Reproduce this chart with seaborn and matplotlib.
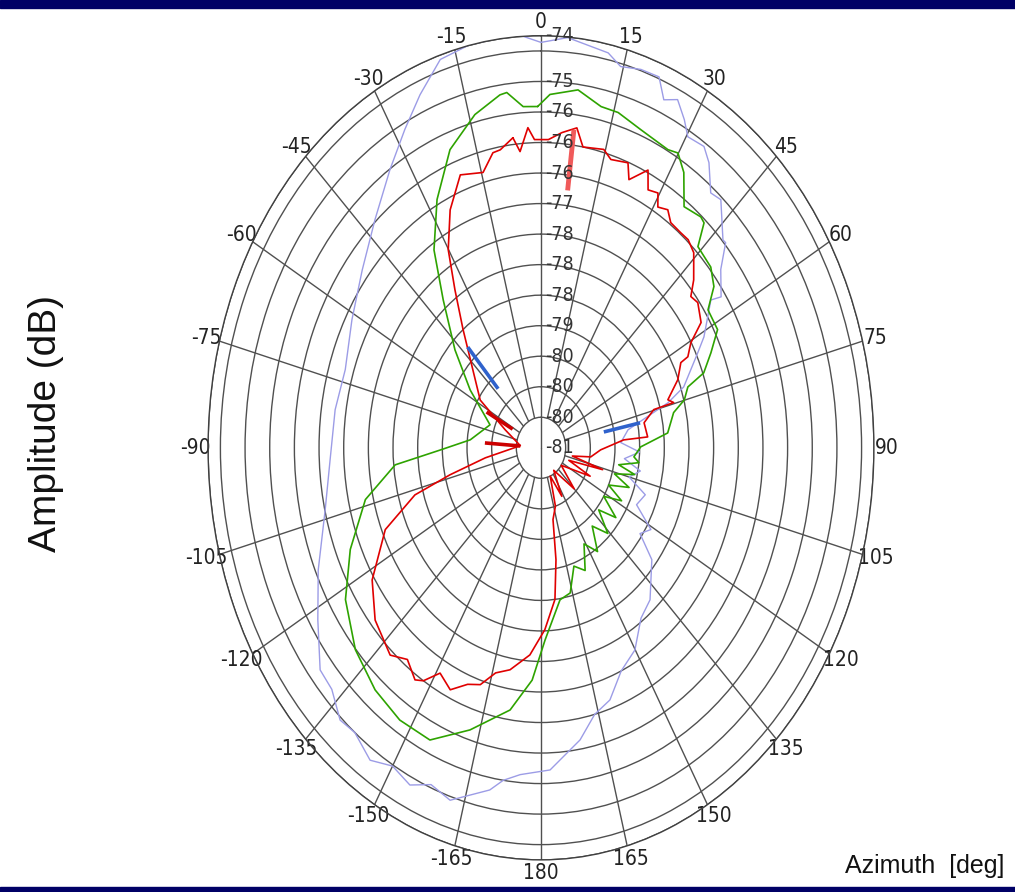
import numpy as np
import pandas as pd
import matplotlib
matplotlib.use("Agg")
import matplotlib.pyplot as plt
from matplotlib import font_manager
import seaborn as sns

# azimuth in degrees (clockwise from 0 at top), amplitude in dB
lav_az = [0, 4.6, 11.9, 14.5, 18.1, 21.5, 23.6, 25.9, 28.4, 30.3, 33.8, 36.1, 39.5, 41.9,
          47.3, 48.1, 51.3, 55.9, 54.9, 61.2, 63.9, 71, 74, 80.5, 87, 92, 96, 100.7, 105,
          110, 115.7, 121, 125, 129.2, 138.4, 144, 150.1, 156, 161.3, 166, 170.6, 178,
          -175.5, -172, -169.5, -162.3, -158, -154.3, -150, -145.9, -141, -137.6, -133,
          -129.1, -121.9, -113.9, -103, -92.6, -81.5, -72.1, -61.3, -51.2, -42, -33.9,
          -27.9, -23, -17.8, -12.3, -7, -3.6]
lav_db = [-74.36, -74.26, -74.39, -74.55, -74.48, -74.47, -74.78, -74.66, -74.89, -75.10,
          -75.06, -75.22, -75.59, -75.54, -75.98, -75.97, -76.33, -76.59, -76.79, -77.23,
          -77.46, -77.94, -78.32, -79.21, -79.38, -79.00, -79.30, -78.95, -79.15, -78.75,
          -78.85, -78.40, -78.55, -78.10, -77.67, -77.55, -77.18, -77.00, -76.64, -76.50,
          -76.15, -75.72, -75.63, -75.50, -75.30, -74.94, -75.05, -74.87, -74.98, -74.82,
          -75.00, -74.96, -75.20, -75.23, -75.67, -76.06, -76.51, -76.72, -76.78, -76.83,
          -76.63, -76.35, -75.97, -75.51, -75.10, -74.72, -74.32, -74.24, -74.23, -74.23]

grn_az = [-0.7, 1.8, 7.3, 12.3, 15.9, 21.2, 27.8, 29.9, 32.7, 36.3, 40.6, 41.9, 44, 49.3,
          53, 56.3, 61.6, 65.7, 69.6, 71.5, 74.9, 77.9, 84.6, 89.6, 94.5, 97, 100, 103, 106,
          110, 114, 118, 122, 127, 131, 136, 141, 146, 151, 156, 161, 166, 171.2, 178.5,
          -177.3, -171.7, -162.7, -154.8, -147.3, -139.7, -131.3, -122.1, -113.3, -103.4,
          -95.4, -91, -84.8, -70, -56.6, -47.4, -39.3, -33.8, -27.4, -20.7, -13.8, -8.2,
          -6.8, -3.7]
grn_db = [-75.41, -75.21, -75.09, -75.28, -75.29, -75.41, -75.48, -75.43, -75.64, -76.10,
          -76.02, -76.05, -76.42, -76.46, -76.61, -76.93, -76.93, -77.22, -77.48, -77.86,
          -77.99, -78.25, -78.42, -78.98, -79.11, -79.00, -79.40, -79.05, -79.45, -79.10,
          -79.50, -79.15, -79.50, -79.10, -79.45, -79.05, -79.35, -78.95, -79.20, -78.80,
          -78.95, -78.55, -78.48, -77.85, -77.19, -76.66, -76.16, -75.71, -75.70, -75.80,
          -75.99, -76.32, -76.79, -77.34, -78.03, -78.96, -79.56, -79.90, -79.28, -78.63,
          -77.87, -77.10, -76.42, -75.78, -75.38, -75.16, -75.14, -75.40]

red_az = [-6.4, -5, -2.9, -1.5, 1.7, 4.7, 7.9, 9.8, 14.6, 16.7, 20.7, 22.1, 25.5, 27.2,
          29.6, 31, 33.4, 35.5, 38.8, 41.2, 44.1, 48.4, 50.8, 53.2, 57.7, 60.5, 63.4, 63.8,
          68.1, 73, 74.6, 74.7, 78.9, 85.3, 85.6, 91.6, 98.4, 102, 106, 110, 115, 125, 135,
          145, 152, 158, 163, 168.3, 170.6, 173.5, 178.5, -176.2, -170.2, -166, -162.4,
          -159, -155.1, -151, -148, -146.1, -142, -138, -130, -122.3, -113, -106.8, -103.5,
          -98.3, -85.3, -68, -57.6, -39.2, -34, -30.1, -25.3, -20.1, -14.6, -11.4, -9.6]
red_db = [-75.89, -76.13, -75.75, -75.95, -75.95, -75.82, -75.71, -76.00, -75.95, -76.07,
          -76.01, -76.26, -75.96, -76.25, -76.20, -76.40, -76.33, -76.47, -76.48, -76.47,
          -76.55, -76.86, -77.08, -77.03, -77.16, -77.51, -77.67, -77.84, -78.01, -78.31,
          -78.21, -78.63, -78.87, -78.83, -79.32, -79.79, -79.98, -80.35, -79.70, -80.40,
          -79.90, -80.50, -80.05, -80.55, -80.10, -80.50, -80.00, -79.80, -79.14, -78.50,
          -78.02, -77.60, -77.31, -77.20, -76.93, -76.85, -76.63, -76.78, -76.50, -76.42,
          -76.60, -76.43, -76.61, -76.95, -77.57, -78.33, -79.10, -79.86, -80.58, -80.22,
          -79.54, -78.50, -77.88, -77.25, -76.69, -76.24, -76.34, -76.07, -76.05]

# short thick marker strokes (azimuth, dB from, dB to)
blue_az = [-42, 78.5]
blue_db0 = [-79.70, -79.70]
blue_db1 = [-78.78, -78.95]
pink_az = [7.3]
pink_db0 = [-76.75]
pink_db1 = [-75.75]
spike_az = [-86, -62]
spike_db0 = [-80.58, -80.35]
spike_db1 = [-79.86, -79.75]

ring_db = [-81, -80.5, -80, -79.5, -79, -78.5, -78, -77.5, -77, -76.5, -76, -75.5, -75,
           -74.5, -74.25]
ring_lab = ["-81", "-80", "-80", "-80", "-79", "-78", "-78", "-78", "-77", "-76", "-76",
            "-76", "-75", "", "-74"]
az_ticks = list(range(0, 360, 15))
az_labels = [str(a if a <= 180 else a - 360) for a in az_ticks]

# narrow face for tick numbers if one is installed
tick_font = font_manager.FontProperties(family="Liberation Sans")
for f in font_manager.fontManager.ttflist:
    if ("Narrow" in f.name or "Condensed" in f.name or "condensed" in str(f.stretch)) \
            and f.style == "normal" and f.weight in (400, "normal", "regular"):
        tick_font = font_manager.FontProperties(fname=f.fname)
        break

sns.set_style("white")
plt.rcParams["font.family"] = ["Liberation Sans", "DejaVu Sans"]

fig = plt.figure(figsize=(10.15, 8.92), dpi=100)
fig.add_artist(plt.Rectangle((0, 0.991), 1, 0.009, transform=fig.transFigure, color="#000066"))
fig.add_artist(plt.Rectangle((0, 0), 1, 0.006, transform=fig.transFigure, color="#000066"))

ax = fig.add_axes([0.205, 0.036, 0.656, 0.924], projection="polar")

series = [(lav_az, lav_db, "#9c9ce6", 1.0),
          (grn_az, grn_db, "#2ea300", 1.2),
          (red_az, red_db, "#e00000", 1.2)]
for az, db, col, lw in series:
    df = pd.DataFrame({"theta": np.deg2rad(az + az[:1]), "amp": db + db[:1]})
    sns.lineplot(data=df, x="theta", y="amp", ax=ax, sort=False, estimator=None,
                 color=col, lw=lw)

for a, d0, d1 in zip(blue_az, blue_db0, blue_db1):
    ax.plot(np.deg2rad([a, a]), [d0, d1], color="#2f62cc", lw=2.6, solid_capstyle="butt")
for a, d0, d1 in zip(pink_az, pink_db0, pink_db1):
    ax.plot(np.deg2rad([a, a]), [d0, d1], color="#f05a5a", lw=3.5, solid_capstyle="butt")
for a, d0, d1 in zip(spike_az, spike_db0, spike_db1):
    ax.plot(np.deg2rad([a, a]), [d0, d1], color="#cc0000", lw=2.6, solid_capstyle="butt")

ax.set_aspect("auto")
ax.set_theta_zero_location("N")
ax.set_theta_direction(-1)
ax.set_ylim(ring_db[0], ring_db[-1])
ax.set_xlabel("")
ax.set_ylabel("")

# rings
ax.set_yticks(ring_db)
ax.set_yticklabels([])
ax.yaxis.grid(True, color="#505050", lw=1.0)
ax.spines["polar"].set_color("#404040")
ax.spines["polar"].set_linewidth(1.0)

# spokes (none at +/-90)
ax.xaxis.grid(False)
ax.set_thetagrids(az_ticks, az_labels)
for a in az_ticks:
    if a in (90, 270):
        continue
    start = ring_db[0] if a in (0, 180) else ring_db[1]
    ax.plot(np.deg2rad([a, a]), [start, ring_db[-1]], color="#505050", lw=1.0, zorder=0.5)
ax.tick_params(axis="x", pad=-1, labelcolor="#222222")
for t in ax.get_xticklabels():
    t.set_fontproperties(tick_font)
    t.set_fontsize(15)

for v, lab in zip(ring_db, ring_lab):
    ax.annotate(lab, xy=(0, v), xytext=(4, 0), textcoords="offset pixels", ha="left",
                va="center", fontproperties=tick_font, fontsize=14, color="#333333",
                annotation_clip=False)

fig.text(0.045, 0.525, "Amplitude (dB)", rotation=90, ha="center", va="center",
         fontsize=28, color="#111111")
fig.text(0.99, 0.029, "Azimuth  [deg]", ha="right", va="center", fontsize=18,
         color="#111111")

fig.savefig("out.png", dpi=100)
